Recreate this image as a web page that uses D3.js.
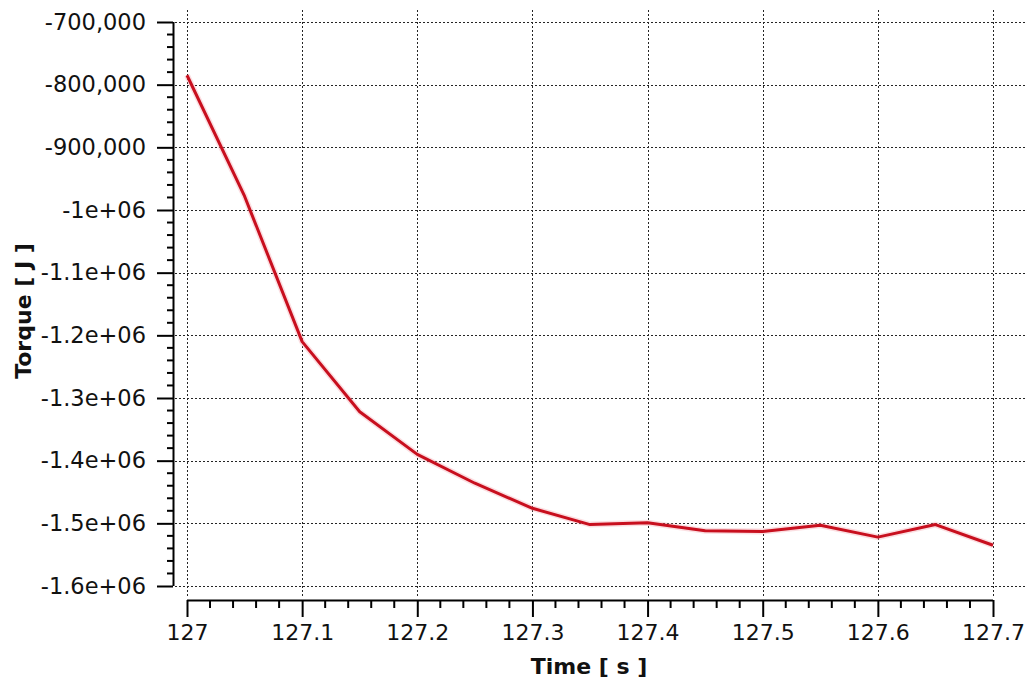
<!DOCTYPE html>
<html>
<head>
<meta charset="utf-8">
<script src="https://cdn.jsdelivr.net/npm/d3@7"></script>
<style>
  html, body { margin: 0; padding: 0; background: #fff; }
  svg { display: block; }
  text { font-family: "DejaVu Sans", Verdana, sans-serif; fill: #111; }
</style>
</head>
<body>
<svg id="chart" width="1025" height="681"></svg>
<script>
// ---- data ----
const times = [127.0, 127.05, 127.1, 127.15, 127.2, 127.25, 127.3, 127.35, 127.4, 127.45, 127.5, 127.55, 127.6, 127.65, 127.7];
const torque = [-785000, -978000, -1210000, -1322000, -1390000, -1436000, -1476000, -1502000, -1499000, -1512000, -1513000, -1503000, -1522000, -1502000, -1535000];
const yTickValues = [-700000, -800000, -900000, -1000000, -1100000, -1200000, -1300000, -1400000, -1500000, -1600000];
const yTickLabels = ["-700,000", "-800,000", "-900,000", "-1e+06", "-1.1e+06", "-1.2e+06", "-1.3e+06", "-1.4e+06", "-1.5e+06", "-1.6e+06"];
const xTickValues = [127, 127.1, 127.2, 127.3, 127.4, 127.5, 127.6, 127.7];
const xTickLabels = ["127", "127.1", "127.2", "127.3", "127.4", "127.5", "127.6", "127.7"];
const xTitle = "Time [ s ]";
const yTitle = "Torque [ J ]";

const svg = d3.select("#chart");
const W = 1025, H = 681;

const x = d3.scaleLinear().domain([127, 127.7]).range([187, 993]);
const y = d3.scaleLinear().domain([-1600000, -700000]).range([586, 22]);

const yAxisX = 173;   // y axis line position
const xAxisY = 600;   // x axis line position
const gridTop = 10, gridRight = W;

// ---- grid ----
const grid = svg.append("g").attr("stroke", "#000").attr("stroke-width", 1)
  .attr("stroke-dasharray", "2,2").attr("opacity", 0.85);
grid.selectAll("line.h").data(yTickValues).join("line")
  .attr("x1", yAxisX + 2).attr("x2", gridRight)
  .attr("y1", d => Math.round(y(d)) + 0.5).attr("y2", d => Math.round(y(d)) + 0.5);
grid.selectAll("line.v").data(xTickValues).join("line")
  .attr("y1", gridTop).attr("y2", xAxisY - 2)
  .attr("x1", d => Math.round(x(d)) + 0.5).attr("x2", d => Math.round(x(d)) + 0.5);

// ---- y axis ----
const yAxis = d3.axisLeft(y)
  .tickValues(yTickValues)
  .tickFormat((d, i) => yTickLabels[i])
  .tickSize(16).tickPadding(11);
const gy = svg.append("g").attr("transform", `translate(${yAxisX},0)`).call(yAxis);
gy.select(".domain").attr("stroke", "#000").attr("stroke-width", 2).attr("d", `M0.5,${y(-700000)}V${y(-1600000)}`);
gy.selectAll(".tick line").attr("stroke", "#000").attr("stroke-width", 2);
gy.selectAll(".tick text").style("font-size", "22.5px").style("font-family", "DejaVu Sans, Verdana, sans-serif").attr("fill", "#111");
// minor y ticks
const yMinor = d3.range(-1600000, -700000 + 1, 20000).filter(v => Math.abs(v % 100000) !== 0);
svg.append("g").selectAll("line").data(yMinor).join("line")
  .attr("x1", yAxisX - 6).attr("x2", yAxisX)
  .attr("y1", d => y(d)).attr("y2", d => y(d))
  .attr("stroke", "#000").attr("stroke-width", 2);

// ---- x axis ----
const xAxis = d3.axisBottom(x)
  .tickValues(xTickValues)
  .tickFormat((d, i) => xTickLabels[i])
  .tickSize(17).tickPadding(7);
const gx = svg.append("g").attr("transform", `translate(0,${xAxisY})`).call(xAxis);
gx.select(".domain").attr("stroke", "#000").attr("stroke-width", 2).attr("d", `M${x(127)},0.5H${x(127.7)}`);
gx.selectAll(".tick line").attr("stroke", "#000").attr("stroke-width", 2);
gx.selectAll(".tick text").style("font-size", "22px").style("font-family", "DejaVu Sans, Verdana, sans-serif").attr("fill", "#111");
// minor x ticks
const xMinor = d3.range(0, 36).map(i => 127 + i * 0.02).filter((v, i) => i % 5 !== 0);
svg.append("g").selectAll("line").data(xMinor).join("line")
  .attr("x1", d => x(d)).attr("x2", d => x(d))
  .attr("y1", xAxisY).attr("y2", xAxisY + 8)
  .attr("stroke", "#000").attr("stroke-width", 2);

// ---- titles ----
svg.append("text").attr("x", 589).attr("y", 674).attr("text-anchor", "middle")
  .style("font-size", "22px").style("font-weight", "bold").text(xTitle);
svg.append("text").attr("transform", "translate(31,311) rotate(-90)").attr("text-anchor", "middle")
  .style("font-size", "22px").style("font-weight", "bold").text(yTitle);

// ---- line ----
const pts = times.map((t, i) => [t, torque[i]]);
svg.append("path").datum(pts)
  .attr("fill", "none")
  .attr("stroke", "#f4a0a8").attr("stroke-width", 6).attr("opacity", 0.35)
  .attr("d", d3.line().x(d => x(d[0])).y(d => y(d[1])));
svg.append("path").datum(pts)
  .attr("fill", "none")
  .attr("stroke", "#c80f1e").attr("stroke-width", 3).attr("stroke-linejoin", "round")
  .attr("d", d3.line().x(d => x(d[0])).y(d => y(d[1])));
</script>
</body>
</html>
